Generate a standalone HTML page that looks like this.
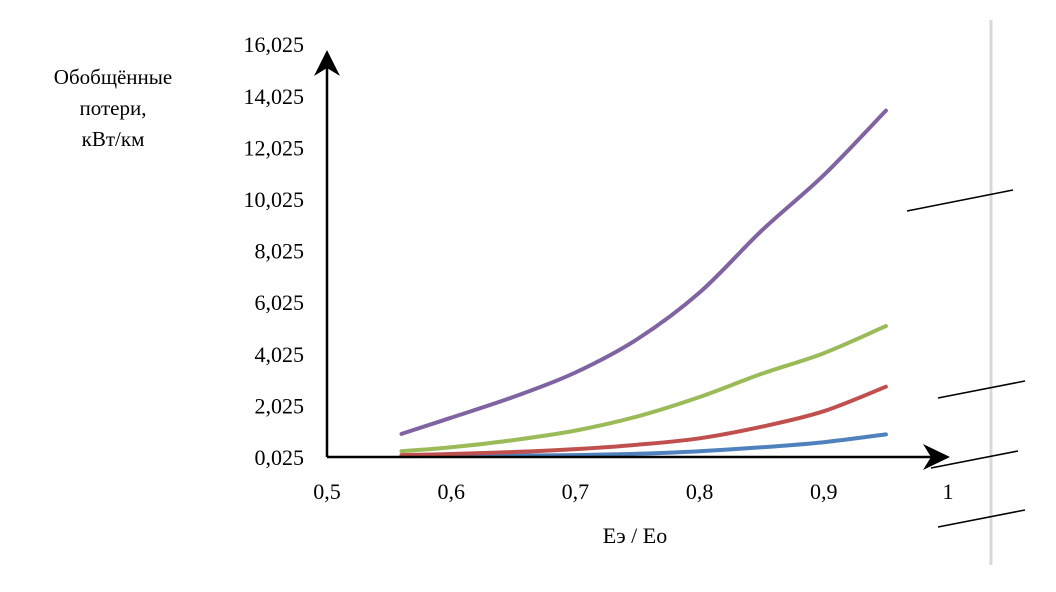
<!DOCTYPE html>
<html><head><meta charset="utf-8"><style>
body{margin:0;background:#fff;}
svg{display:block;font-family:"Liberation Serif",serif;}
</style></head><body>
<svg id="chart" width="1056" height="592" viewBox="0 0 1056 592">
<g id="decor">
<line x1="991" y1="20" x2="991" y2="565" stroke="#d9d9d9" stroke-width="3"/>
<line x1="907" y1="211" x2="1013" y2="190" stroke="#000" stroke-width="1.5"/>
<line x1="938" y1="398" x2="1025" y2="381" stroke="#000" stroke-width="1.5"/>
<line x1="931" y1="468" x2="1018" y2="451" stroke="#000" stroke-width="1.5"/>
<line x1="938" y1="527" x2="1025" y2="510" stroke="#000" stroke-width="1.5"/>
</g>
<text x="113" y="84" font-size="21" text-anchor="middle"><tspan x="113" y="84">Обобщённые</tspan><tspan x="113" y="115">потери,</tspan><tspan x="113" y="146">кВт/км</tspan></text>
<text x="635" y="543" font-size="22" text-anchor="middle">Еэ / Ео</text>
<g id="marks"></g>
<g id="axes"></g>
</svg>
<script>
const yTicks = ["0,025","2,025","4,025","6,025","8,025","10,025","12,025","14,025","16,025"];
const xTickVals = [0.5,0.6,0.7,0.8,0.9,1];
const xTickLabels = ["0,5","0,6","0,7","0,8","0,9","1"];
const xs = [0.56,0.6,0.65,0.7,0.75,0.8,0.85,0.9,0.95];
const purple = [0.92,1.55,2.35,3.3,4.6,6.4,8.8,10.95,13.45];
const green = [0.25,0.4,0.68,1.05,1.6,2.35,3.25,4.05,5.1];
const red = [0.1,0.14,0.22,0.33,0.5,0.75,1.2,1.8,2.75];
const blue = [0.06,0.07,0.08,0.1,0.15,0.25,0.4,0.6,0.9];
const seriesColors = ["#4f81bd","#c0504d","#9bbb59","#8064a2"];
const seriesNames = ["series-blue","series-red","series-green","series-purple"];

const NS="http://www.w3.org/2000/svg";
function X(v){return 327+(v-0.5)*1242;}
function Y(v){return 457-(v-0.025)*25.8;}
const marks=document.getElementById('marks');
const axes=document.getElementById('axes');
function mk(tag,attrs,parent){const e=document.createElementNS(NS,tag);for(const k in attrs)e.setAttribute(k,attrs[k]);parent.appendChild(e);return e;}
function smooth(pts){
  let d="M"+pts[0][0].toFixed(1)+","+pts[0][1].toFixed(1);
  for(let i=0;i<pts.length-1;i++){
    const p0=pts[Math.max(i-1,0)],p1=pts[i],p2=pts[i+1],p3=pts[Math.min(i+2,pts.length-1)];
    const c1=[p1[0]+(p2[0]-p0[0])/6,p1[1]+(p2[1]-p0[1])/6];
    const c2=[p2[0]-(p3[0]-p1[0])/6,p2[1]-(p3[1]-p1[1])/6];
    d+="C"+c1[0].toFixed(1)+","+c1[1].toFixed(1)+" "+c2[0].toFixed(1)+","+c2[1].toFixed(1)+" "+p2[0].toFixed(1)+","+p2[1].toFixed(1);
  }
  return d;
}

[blue,red,green,purple].forEach((s,i)=>{
  const pts=xs.map((x,j)=>[X(x),Y(s[j])]);
  const p=mk('path',{d:smooth(pts),fill:"none",stroke:seriesColors[i],"stroke-width":4,"stroke-linecap":"round","stroke-linejoin":"round"},marks);
  
  
});

const ya=mk('line',{x1:327,y1:457,x2:327,y2:58,stroke:"#000","stroke-width":2.5},axes);


const yar=mk('path',{d:"M327,50 L340,76 L327,68 L314,76 Z",fill:"#000"},axes);


const xa=mk('line',{x1:327,y1:457,x2:940,y2:457,stroke:"#000","stroke-width":2.5},axes);


const xar=mk('path',{d:"M950,457 L923,444 L931,457 L923,470 Z",fill:"#000"},axes);



yTicks.forEach((t,i)=>{
  const v=parseFloat(t.replace(",","."));
  const tx=mk('text',{x:304,y:Y(v)+8,"font-size":22,"text-anchor":"end"},axes);
  tx.textContent=t;
  
  
});
xTickVals.forEach((v,i)=>{
  const tx=mk('text',{x:X(v),y:499,"font-size":22,"text-anchor":"middle"},axes);
  tx.textContent=xTickLabels[i];
  
  
});
</script>
</body></html>
